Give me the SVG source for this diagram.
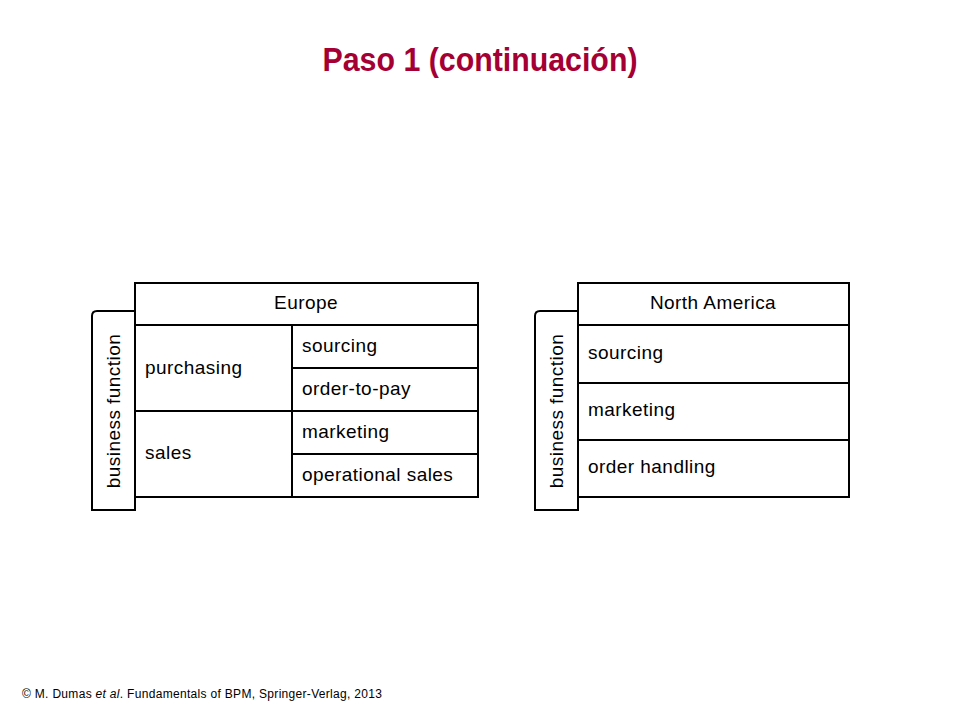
<svg xmlns="http://www.w3.org/2000/svg" width="960" height="720" viewBox="0 0 960 720">
<style>
.b{fill:#fff;stroke:#000;stroke-width:2}
.t{font-family:"Liberation Sans",Arial,sans-serif;font-size:19px;fill:#000;letter-spacing:0.45px}
.c{text-anchor:middle}
</style>
<rect width="960" height="720" fill="#fff"/>
<text x="480" y="71" text-anchor="middle" font-family="Liberation Sans,Arial,sans-serif" font-weight="bold" font-size="34" fill="#A50034" textLength="315" lengthAdjust="spacingAndGlyphs">Paso 1 (continuación)</text>
<g id="europe">
<path class="b" d="M135 311 H97 Q92 311 92 316 V510 H135 Z"/>
<text class="t c" transform="translate(120 411) rotate(-90)">business function</text>
<rect class="b" x="135" y="283" width="343" height="42"/>
<text class="t c" x="306" y="309">Europe</text>
<rect class="b" x="135" y="325" width="343" height="172"/>
<line class="b" x1="135" y1="411" x2="478" y2="411"/>
<line class="b" x1="292" y1="325" x2="292" y2="497"/>
<line class="b" x1="292" y1="368" x2="478" y2="368"/>
<line class="b" x1="292" y1="454" x2="478" y2="454"/>
<text class="t" x="145" y="374">purchasing</text>
<text class="t" x="145" y="459">sales</text>
<text class="t" x="302" y="352">sourcing</text>
<text class="t" x="302" y="395">order-to-pay</text>
<text class="t" x="302" y="438">marketing</text>
<text class="t" x="302" y="481">operational sales</text>
</g>
<g id="northamerica">
<path class="b" d="M578 311 H540 Q535 311 535 316 V510 H578 Z"/>
<text class="t c" transform="translate(563 411) rotate(-90)">business function</text>
<rect class="b" x="578" y="283" width="271" height="42"/>
<text class="t c" x="713" y="309">North America</text>
<rect class="b" x="578" y="325" width="271" height="172"/>
<line class="b" x1="578" y1="383" x2="849" y2="383"/>
<line class="b" x1="578" y1="440" x2="849" y2="440"/>
<text class="t" x="588" y="359">sourcing</text>
<text class="t" x="588" y="416">marketing</text>
<text class="t" x="588" y="473">order handling</text>
</g>
<g id="connectors"/>
<text x="22" y="698" font-family="Liberation Sans,Arial,sans-serif" font-size="12" fill="#000" textLength="360">© M. Dumas <tspan font-style="italic">et al</tspan>. Fundamentals of BPM, Springer-Verlag,  2013</text>
</svg>
